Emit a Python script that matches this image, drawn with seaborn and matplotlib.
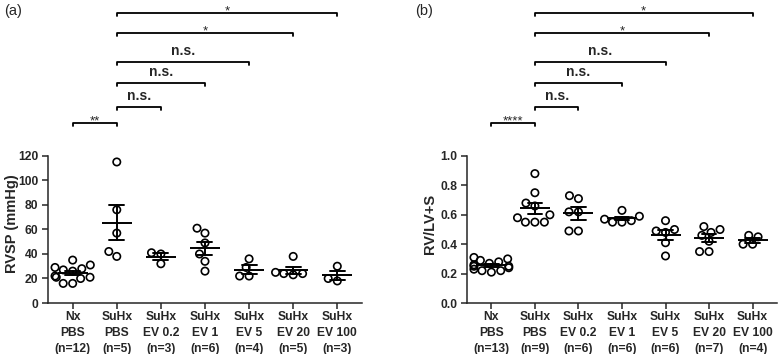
import numpy as np
import pandas as pd
import seaborn as sns
from matplotlib import pyplot as plt
from matplotlib import transforms

# group labels (shared by both panels)
groups = ['Nx\nPBS', 'SuHx\nPBS', 'SuHx\nEV 0.2', 'SuHx\nEV 1',
          'SuHx\nEV 5', 'SuHx\nEV 20', 'SuHx\nEV 100']

# panel (a): RVSP (mmHg)
rvsp_nx_pbs = [35, 31, 29, 28, 27, 26, 22, 21, 21, 20, 16, 16]
rvsp_suhx_pbs = [115, 76, 57, 42, 38]
rvsp_ev02 = [41, 40, 32]
rvsp_ev1 = [61, 57, 49, 40, 34, 26]
rvsp_ev5 = [36, 29, 22, 22]
rvsp_ev20 = [38, 25, 24, 24, 23]
rvsp_ev100 = [30, 20, 18]

# panel (b): RV/LV+S
fulton_nx_pbs = [0.31, 0.30, 0.29, 0.28, 0.27, 0.26, 0.25, 0.25, 0.24,
                 0.23, 0.22, 0.22, 0.21]
fulton_suhx_pbs = [0.88, 0.75, 0.68, 0.66, 0.60, 0.58, 0.55, 0.55, 0.55]
fulton_ev02 = [0.73, 0.71, 0.62, 0.62, 0.49, 0.49]
fulton_ev1 = [0.63, 0.59, 0.57, 0.56, 0.55, 0.55]
fulton_ev5 = [0.56, 0.50, 0.49, 0.48, 0.41, 0.32]
fulton_ev20 = [0.52, 0.50, 0.48, 0.46, 0.42, 0.35, 0.35]
fulton_ev100 = [0.46, 0.45, 0.40, 0.40]

# comparisons: (group i, group j, label)
sig_a = [(0, 1, '**'), (1, 2, 'n.s.'), (1, 3, 'n.s.'), (1, 4, 'n.s.'),
         (1, 5, '*'), (1, 6, '*')]
sig_b = [(0, 1, '****'), (1, 2, 'n.s.'), (1, 3, 'n.s.'), (1, 4, 'n.s.'),
         (1, 5, '*'), (1, 6, '*')]

sns.set_style('ticks')
plt.rcParams['font.family'] = ['Liberation Sans', 'DejaVu Sans']
plt.rcParams['axes.linewidth'] = 1.1


def make_df(series):
    rows = []
    for g, vals in zip(groups, series):
        for v in vals:
            rows.append((g, v))
    return pd.DataFrame(rows, columns=['group', 'value'])


def panel(ax, series, ymax, yticks, ylabel, sigs, label_x):
    df = make_df(series)
    ticklabels = [f'{g}\n(n={len(v)})' for g, v in zip(groups, series)]
    sns.swarmplot(data=df, x='group', y='value', order=groups, ax=ax,
                  size=5.3, facecolor='none', edgecolor='black',
                  linewidth=1.2, zorder=3, warn_thresh=1)
    sns.pointplot(data=df, x='group', y='value', order=groups, ax=ax,
                  errorbar='se', capsize=0.34, color='black',
                  linestyle='none', marker='_', markersize=21,
                  markeredgewidth=1.4, zorder=4,
                  err_kws={'linewidth': 1.4, 'zorder': 4})
    ax.set_xlim(-0.56, 6.56)
    ax.set_ylim(0, ymax)
    ax.set_yticks(yticks)
    ax.spines['left'].set_bounds(yticks[0], yticks[-1])
    ax.spines[['top', 'right']].set_visible(False)
    ax.set_xticks(range(len(groups)))
    ax.set_xticklabels(ticklabels, fontsize=8.7, fontweight='bold',
                       linespacing=1.41)
    ax.tick_params(length=4, width=1.1, pad=3)
    ax.tick_params(axis='x', pad=2)
    ax.set_xlabel('')
    ax.set_ylabel(ylabel, fontsize=10.5, fontweight='bold')
    ax.yaxis.set_label_coords(label_x, 0.537 * yticks[-1] / ymax)

    # significance brackets
    trans = transforms.blended_transform_factory(ax.transData, ax.transAxes)
    levels = [0.604, 0.658, 0.738, 0.809, 0.906, 0.973]
    for (i, j, lab), lev in zip(sigs, levels):
        ax.plot([i, i, j, j], [lev - 0.011, lev, lev, lev - 0.011],
                color='black', lw=1.3, transform=trans, clip_on=False)
        if lab == 'n.s.':
            ax.annotate(lab, ((i + j) / 2, lev), xycoords=trans,
                        xytext=(0, 5), textcoords='offset points',
                        ha='center', va='baseline', fontsize=10,
                        fontweight='bold')
        else:
            ax.annotate(lab, ((i + j) / 2, lev), xycoords=trans,
                        xytext=(0, -1), textcoords='offset points',
                        ha='center', va='baseline', fontsize=9.5)
    return ax


fig = plt.figure(figsize=(7.8, 3.54), dpi=100)
ax_a = fig.add_axes([0.0615, 0.144, 0.4026, 0.842])
ax_b = fig.add_axes([0.5987, 0.144, 0.3974, 0.842])

panel(ax_a, [rvsp_nx_pbs, rvsp_suhx_pbs, rvsp_ev02, rvsp_ev1, rvsp_ev5,
             rvsp_ev20, rvsp_ev100],
      243, [0, 20, 40, 60, 80, 100, 120], 'RVSP (mmHg)', sig_a, -0.092)
panel(ax_b, [fulton_nx_pbs, fulton_suhx_pbs, fulton_ev02, fulton_ev1,
             fulton_ev5, fulton_ev20, fulton_ev100],
      2.027, [0.0, 0.2, 0.4, 0.6, 0.8, 1.0], 'RV/LV+S', sig_b, -0.097)
ax_b.set_yticks([0.0, 0.2, 0.4, 0.6, 0.8, 1.0],
                ['0.0', '0.2', '0.4', '0.6', '0.8', '1.0'])

for ax in (ax_a, ax_b):
    for t in ax.get_yticklabels():
        t.set_fontsize(8.7)
        t.set_fontweight('bold')

fig.text(0.005, 0.958, '(a)', fontsize=10.5)
fig.text(0.532, 0.958, '(b)', fontsize=10.5)

fig.savefig('out.png', dpi=100)
